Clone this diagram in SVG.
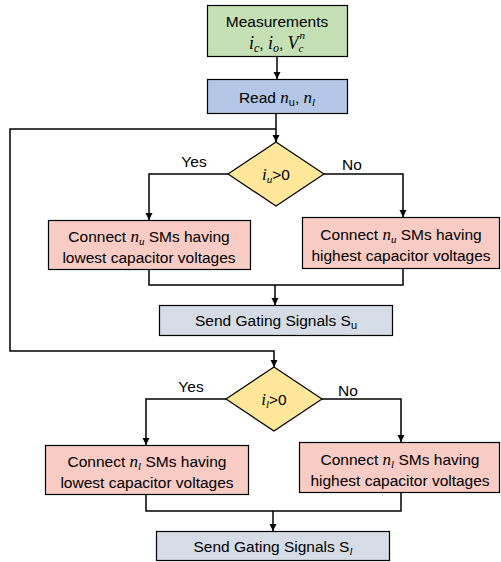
<svg xmlns="http://www.w3.org/2000/svg" width="501" height="562" viewBox="0 0 501 562">
<defs>
<marker id="ah" markerWidth="8" markerHeight="8" refX="7" refY="4" orient="auto" markerUnits="userSpaceOnUse">
<path d="M0,0.5 L7,4 L0,7.5 Z" fill="#000"/>
</marker>
<style>
.b{stroke:#000;stroke-width:1.2}
.t{font-family:"Liberation Sans",Arial,sans-serif;font-size:15.5px;fill:#000;text-anchor:middle}
.m{font-family:"Liberation Serif","Times New Roman",serif;font-style:italic}
.c{fill:none;stroke:#000;stroke-width:1.5}
</style>
</defs>
<rect width="501" height="562" fill="#fff"/>
<g id="measurements">
<rect class="b" x="207.5" y="5.5" width="140" height="51" fill="#C5E0B4"/>
<text class="t" x="277" y="27">Measurements</text>
<text class="t" x="277" y="49"><tspan class="m" font-size="18">i</tspan><tspan class="m" font-size="12" dy="3">c</tspan><tspan dy="-3">, </tspan><tspan class="m" font-size="18">i</tspan><tspan class="m" font-size="12" dy="3">o</tspan><tspan dy="-3">, </tspan><tspan class="m" font-size="18">V</tspan><tspan class="m" font-size="11" dy="3">c</tspan><tspan class="m" font-size="11" dx="-4" dy="-13">n</tspan></text>
</g>
<g id="read">
<rect class="b" x="207.5" y="79.5" width="140" height="34" fill="#B4C7E7"/>
<text class="t" x="277" y="103">Read <tspan class="m" font-size="17">n</tspan><tspan font-size="11" dy="3">u</tspan><tspan dy="-3">, </tspan><tspan class="m" font-size="17">n</tspan><tspan class="m" font-size="11" dy="3">l</tspan></text>
</g>
<g id="dec_u">
<polygon class="b" points="276,142 324,174 276,206 228,174" fill="#FFE699"/>
<text class="t" x="276" y="180"><tspan class="m" font-size="17">i</tspan><tspan class="m" font-size="11" dy="3">u</tspan><tspan dy="-3">&gt;0</tspan></text>
</g>
<g id="conn_low_u">
<rect class="b" x="48.5" y="220.5" width="202" height="49" fill="#F8CBC4"/>
<text class="t" x="149" y="242">Connect <tspan class="m" font-size="17">n</tspan><tspan class="m" font-size="11" dy="3">u</tspan><tspan dy="-3"> SMs having</tspan></text>
<text class="t" x="149" y="263">lowest capacitor voltages</text>
</g>
<g id="conn_high_u">
<rect class="b" x="302.5" y="217.5" width="197" height="51" fill="#F8CBC4"/>
<text class="t" x="401" y="240">Connect <tspan class="m" font-size="17">n</tspan><tspan class="m" font-size="11" dy="3">u</tspan><tspan dy="-3"> SMs having</tspan></text>
<text class="t" x="401" y="261">highest capacitor voltages</text>
</g>
<g id="send_u">
<rect class="b" x="159.5" y="305.5" width="233" height="30" fill="#D6DCE5"/>
<text class="t" x="276" y="326">Send Gating Signals S<tspan font-size="11" dy="3">u</tspan></text>
</g>
<g id="dec_l">
<polygon class="b" points="274,367 322,399 274,431 226,399" fill="#FFE699"/>
<text class="t" x="274" y="405"><tspan class="m" font-size="17">i</tspan><tspan class="m" font-size="11" dy="3">l</tspan><tspan dy="-3">&gt;0</tspan></text>
</g>
<g id="conn_low_l">
<rect class="b" x="45.5" y="445.5" width="203" height="49" fill="#F8CBC4"/>
<text class="t" x="147" y="467">Connect <tspan class="m" font-size="17">n</tspan><tspan class="m" font-size="11" dy="3">l</tspan><tspan dy="-3"> SMs having</tspan></text>
<text class="t" x="147" y="488">lowest capacitor voltages</text>
</g>
<g id="conn_high_l">
<rect class="b" x="299.5" y="442.5" width="200" height="50" fill="#F8CBC4"/>
<text class="t" x="400" y="465">Connect <tspan class="m" font-size="17">n</tspan><tspan class="m" font-size="11" dy="3">l</tspan><tspan dy="-3"> SMs having</tspan></text>
<text class="t" x="400" y="486">highest capacitor voltages</text>
</g>
<g id="send_l">
<rect class="b" x="156.5" y="531.5" width="233" height="29" fill="#D6DCE5"/>
<text class="t" x="273" y="552">Send Gating Signals S<tspan class="m" font-size="11" dy="3">l</tspan></text>
</g>
<g id="connectors">
<line class="c" x1="277" y1="57" x2="277" y2="79" marker-end="url(#ah)"/>
<line class="c" x1="276" y1="114" x2="276" y2="142" marker-end="url(#ah)"/>
<polyline class="c" points="276,129 10,129 10,351 274,351 274,367" marker-end="url(#ah)"/>
<polyline class="c" points="228,174 149,174 149,220" marker-end="url(#ah)"/>
<polyline class="c" points="324,174 403,174 403,217" marker-end="url(#ah)"/>
<polyline class="c" points="149,270 149,285 403,285 403,269"/>
<line class="c" x1="275" y1="285" x2="275" y2="305" marker-end="url(#ah)"/>
<polyline class="c" points="226,399 146,399 146,445" marker-end="url(#ah)"/>
<polyline class="c" points="322,399 401,399 401,442" marker-end="url(#ah)"/>
<polyline class="c" points="146,495 146,511 401,511 401,493"/>
<line class="c" x1="273" y1="511" x2="273" y2="531" marker-end="url(#ah)"/>
<text class="t" x="194" y="167" font-size="16.5">Yes</text>
<text class="t" x="352" y="170" font-size="16.5">No</text>
<text class="t" x="191" y="392" font-size="16.5">Yes</text>
<text class="t" x="348" y="396" font-size="16.5">No</text>
</g>
</svg>
